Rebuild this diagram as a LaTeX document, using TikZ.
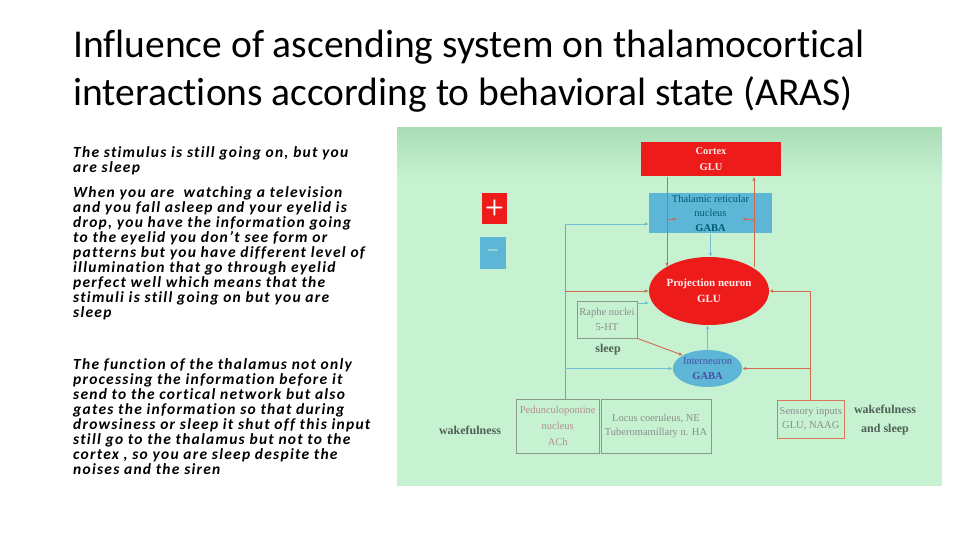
\documentclass[tikz,border=0pt]{standalone}
\usepackage{fontspec}
\setmainfont{Carlito}[Ligatures=NoCommon]
\newfontfamily\notefont{Carlito}[Ligatures=NoCommon,LetterSpace=8]
\newfontfamily\figfont{Liberation Serif}
\usetikzlibrary{arrows.meta,shapes.geometric}

\definecolor{aRed}{HTML}{EE1B1B}
\definecolor{aBlue}{HTML}{5DB6D6}
\definecolor{aGreen}{HTML}{C6F2D2}
\definecolor{aGreenTop}{HTML}{ABDDB7}
\definecolor{aLinkRed}{HTML}{D46A4C}
\definecolor{aLinkBlue}{HTML}{74BDD3}
\definecolor{aTrunk}{HTML}{A39486}
\definecolor{aBoxGray}{HTML}{8E9888}
\definecolor{aLabel}{HTML}{506055}

\begin{document}
\begin{tikzpicture}[x=1pt,y=-1pt,
  fig/.style={font=\figfont\fontsize{10.5}{14.5}\selectfont,align=center,inner sep=0pt},
  redbox/.style={fig,fill=aRed,text=red!8,minimum width=140pt,minimum height=34pt},
  bluebox/.style={fig,fill=aBlue,text=black!55!blue!40!cyan!60!black},
  graybox/.style={fig,draw=aBoxGray,line width=0.8pt,text=black!45},
  lab/.style={font=\figfont\bfseries\fontsize{12}{19}\selectfont,text=aLabel,align=center},
  redlink/.style={draw=aLinkRed,line width=0.9pt,-{Latex[length=4pt,width=3.5pt]}},
  bluelink/.style={draw=aLinkBlue,line width=0.8pt,-{Latex[length=4pt,width=3.5pt]}}]
  \path[use as bounding box] (0,0) rectangle (960,540);
  % title
  \node[anchor=base west,inner sep=0pt,font=\fontsize{39.5}{48}\selectfont] (title1) at (73,57.5)
    {Influence of ascending system on thalamocortical};
  \node[anchor=base west,inner sep=0pt,font=\fontsize{39.5}{48}\selectfont] (title2) at (73,106)
    {interactions according to behavioral state (ARAS)};
  % notes on the left
  \tikzset{note/.style={anchor=north west,inner sep=0pt,align=left,
    font=\notefont\bfseries\itshape\fontsize{15.5}{15.1}\selectfont}}
  \node[note] (note1) at (73,146) {The stimulus is still going on, but you\\are sleep};
  \node[note] (note2) at (73,186) {When you are\ \ watching a television\\
    and you fall asleep and your eyelid is\\drop, you have the information going\\
    to the eyelid you don’t see form or\\patterns but you have different level of\\
    illumination that go through eyelid\\perfect well which means that the\\
    stimuli is still going on but you are\\sleep};
  \node[note] (note3) at (73,358) {The function of the thalamus not only\\
    processing the information before it\\send to the cortical network but also\\
    gates the information so that during\\drowsiness or sleep it shut off this input\\
    still go to the thalamus but not to the\\cortex , so you are sleep despite the\\
    noises and the siren};
  % slide picture
  \fill[aGreen] (397,128) rectangle (942,486);
  \shade[top color=aGreenTop,bottom color=aGreen] (397,128) rectangle (942,180);
  \node[redbox,font=\figfont\bfseries\fontsize{10.5}{16}\selectfont] (cortex) at (711,159.5)
    {Cortex\\GLU};
  \node[bluebox,minimum width=123pt,minimum height=40.6pt] (trn) at (710.5,213)
    {Thalamic reticular\\nucleus\\\textbf{GABA}};
  \node[fig,fill=aRed,text=white,minimum width=25.6pt,minimum height=31pt,
    font=\sffamily\bfseries\fontsize{22}{22}\selectfont] (plus) at (494.5,208) {+};
  \node[fig,fill=aBlue,text=aGreen!80!aBlue,minimum width=26pt,minimum height=32.6pt,
    font=\sffamily\bfseries\fontsize{18}{18}\selectfont] (minus) at (493,253) {--};
  \node[fig,ellipse,fill=aRed,text=red!8,minimum width=108pt,minimum height=68pt,
    font=\figfont\bfseries\fontsize{11}{16}\selectfont] (pn) at (709,291)
    {Projection neuron\\GLU};
  \node[graybox,minimum width=60pt,minimum height=37pt] (raphe) at (607,319.5)
    {Raphe nuclei\\5-HT};
  \node[lab] (sleep) at (608,350) {sleep};
  \node[fig,ellipse,fill=aBlue,text=blue!50!black!70,minimum width=63pt,minimum height=37pt]
    (inter) at (707.5,368.5) {Interneuron\\\textbf{GABA}};
  \node[graybox,minimum width=83pt,minimum height=54pt,text=red!35!black!45,
    font=\figfont\fontsize{10.5}{16}\selectfont] (ped) at (557.7,426)
    {Pedunculopontine\\nucleus\\ACh};
  \node[graybox,minimum width=110pt,minimum height=54pt] (locus) at (656,426)
    {Locus coeruleus, NE\\Tuberomamillary n. HA};
  \node[graybox,draw=aLinkRed!90!white,minimum width=67pt,minimum height=38pt] (sensory)
    at (810.8,419) {Sensory inputs\\GLU, NAAG};
  \node[lab] (wakeL) at (470,430) {wakefulness};
  \node[lab] (wakeR) at (885,420) {wakefulness\\and sleep};
  % connectors
  \coordinate (xL) at (667,0);
  \coordinate (xR) at (754,0);
  \coordinate (tick) at (0,219);
  \coordinate (trunk) at (565,224);
  \draw[aTrunk,line width=0.9pt] (trunk |- ped.north) -- (trunk);
  \draw[bluelink] (trunk) -- (trunk -| trn.west);
  \draw[redlink] (trunk |- pn.west) -- (pn.west);
  \draw[bluelink] (trunk |- inter.west) -- (inter.west);
  \draw[redlink] (cortex.south -| xL) -- (pn.north west -| xL);
  \draw[redlink] (pn.north east -| xR) -- (cortex.south -| xR);
  \draw[redlink] (xL |- tick) -- ++(10,0);
  \draw[redlink] (xR |- tick) -- ++(-12,0);
  \draw[bluelink] (trn.south) -- (trn.south |- pn.north);
  \coordinate (rY) at (0,303);
  \draw[bluelink] (raphe.east |- rY) -- (pn.west |- rY);
  \draw[redlink] (raphe.south east) -- (inter.north west);
  \draw[bluelink] (inter.north) -- (inter.north |- pn.south);
  \draw[redlink] (sensory.north) |- (pn.east);
  \draw[redlink] (sensory.north |- inter.east) -- (inter.east);
\end{tikzpicture}
\end{document}
